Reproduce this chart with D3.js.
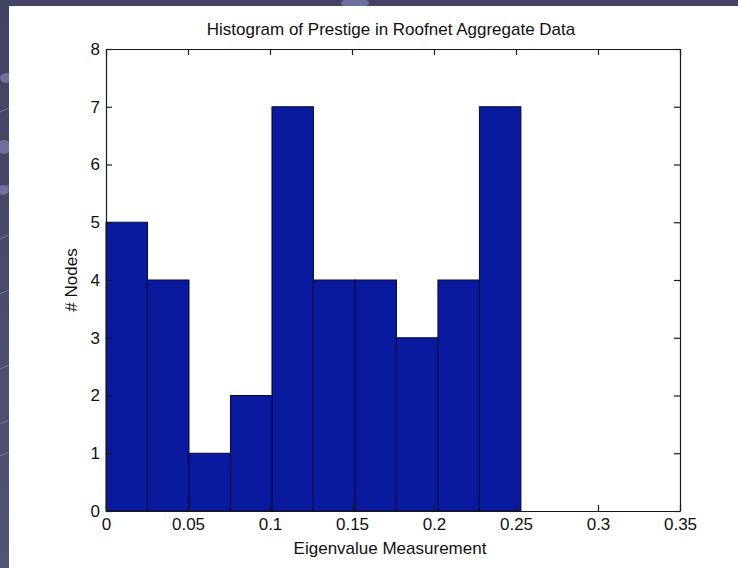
<!DOCTYPE html>
<html>
<head>
<meta charset="utf-8">
<script src="https://cdn.jsdelivr.net/npm/d3@7"></script>
<style>
  html, body { margin: 0; padding: 0; background: #46476a; }
  svg { display: block; }
  text { font-family: "Liberation Sans", Arial, sans-serif; fill: #111; }
</style>
</head>
<body>
<div id="chart"></div>
<script>
// histogram data
const binEdges = [0, 0.0253, 0.0506, 0.0759, 0.1012, 0.1265, 0.1518, 0.1771, 0.2024, 0.2277, 0.253];
const binCounts = [5, 4, 1, 2, 7, 4, 4, 3, 4, 7];
const xTicks = [0, 0.05, 0.1, 0.15, 0.2, 0.25, 0.3, 0.35];
const yTicks = [0, 1, 2, 3, 4, 5, 6, 7, 8];

const titleText = "Histogram of Prestige in Roofnet Aggregate Data";
const xLabelText = "Eigenvalue Measurement";
const yLabelText = "# Nodes";

const W = 738, H = 568;
const plot = {left: 106, right: 680, top: 49, bottom: 511};

const svg = d3.select("#chart").append("svg")
    .attr("width", W)
    .attr("height", H);

// slide background
const defs = svg.append("defs");
const bg = defs.append("linearGradient")
    .attr("id", "bgGrad")
    .attr("x1", "0%").attr("y1", "0%")
    .attr("x2", "0%").attr("y2", "100%");
bg.append("stop").attr("offset", "0%").style("stop-color", "#424262");
bg.append("stop").attr("offset", "100%").style("stop-color", "#525378");

svg.append("rect")
    .attr("width", W).attr("height", H)
    .attr("fill", "url(#bgGrad)");

// decorative swooshes at the left edge
const deco = svg.append("g").attr("fill", "#7677a8").attr("opacity", 0.85);
deco.append("ellipse").attr("cx", 6).attr("cy", 78).attr("rx", 6).attr("ry", 5);
deco.append("ellipse").attr("cx", 4).attr("cy", 147).attr("rx", 8).attr("ry", 7);
deco.append("ellipse").attr("cx", 3).attr("cy", 190).attr("rx", 6).attr("ry", 5);
deco.append("ellipse").attr("cx", 355).attr("cy", 3).attr("rx", 14).attr("ry", 5);
const lines = svg.append("g").attr("stroke", "#6e6fa0").attr("stroke-width", 1.2).attr("fill", "none");
[108, 185, 235, 290, 365, 420, 452].forEach((yy, i) => {
    lines.append("line").attr("x1", 0).attr("y1", yy + 4).attr("x2", 9).attr("y2", yy);
});

// white figure panel
svg.append("rect")
    .attr("x", 9).attr("y", 6)
    .attr("width", W - 9).attr("height", H - 6)
    .attr("fill", "#ffffff");

const x = d3.scaleLinear().domain([0, 0.35]).range([plot.left, plot.right]);
const y = d3.scaleLinear().domain([0, 8]).range([plot.bottom, plot.top]);

// bars
const bars = binCounts.map((c, i) => ({x0: binEdges[i], x1: binEdges[i + 1], count: c}));
svg.append("g")
    .selectAll("rect")
    .data(bars)
    .enter()
    .append("rect")
    .attr("x", d => x(d.x0))
    .attr("y", d => y(d.count))
    .attr("width", d => x(d.x1) - x(d.x0))
    .attr("height", d => y(0) - y(d.count))
    .attr("fill", "#0a1a9e")
    .attr("stroke", "#050a30")
    .attr("stroke-width", 1);

// axes, ticks pointing inward like matlab
const fmt = d => d === 0 ? "0" : String(d);

const xAxis = svg.append("g")
    .attr("transform", `translate(0, ${plot.bottom})`)
    .call(d3.axisBottom(x).tickValues(xTicks).tickFormat(fmt).tickSizeInner(-6).tickSizeOuter(0).tickPadding(7));
const xTop = svg.append("g")
    .attr("transform", `translate(0, ${plot.top})`)
    .call(d3.axisTop(x).tickValues(xTicks).tickFormat("").tickSizeInner(-6).tickSizeOuter(0));
const yAxis = svg.append("g")
    .attr("transform", `translate(${plot.left}, 0)`)
    .call(d3.axisLeft(y).tickValues(yTicks).tickFormat(fmt).tickSizeInner(-6).tickSizeOuter(0).tickPadding(6));
const yRight = svg.append("g")
    .attr("transform", `translate(${plot.right}, 0)`)
    .call(d3.axisRight(y).tickValues(yTicks).tickFormat("").tickSizeInner(-6).tickSizeOuter(0));

[xAxis, xTop, yAxis, yRight].forEach(g => {
    g.selectAll(".domain").attr("stroke", "#1a1a1a").attr("stroke-width", 1.2);
    g.selectAll(".tick line").attr("stroke", "#1a1a1a").attr("stroke-width", 1.2);
    g.selectAll(".tick text")
        .style("font-family", "'Liberation Sans', Arial, sans-serif")
        .style("font-size", "17px")
        .attr("fill", "#1a1a1a");
});

// titles
svg.append("text")
    .attr("x", 391).attr("y", 35)
    .attr("text-anchor", "middle")
    .style("font-size", "17px")
    .text(titleText);

svg.append("text")
    .attr("x", 390).attr("y", 554)
    .attr("text-anchor", "middle")
    .style("font-size", "17px")
    .text(xLabelText);

svg.append("text")
    .attr("transform", `translate(77, ${(plot.top + plot.bottom) / 2}) rotate(-90)`)
    .attr("text-anchor", "middle")
    .style("font-size", "17px")
    .text(yLabelText);
</script>
</body>
</html>
